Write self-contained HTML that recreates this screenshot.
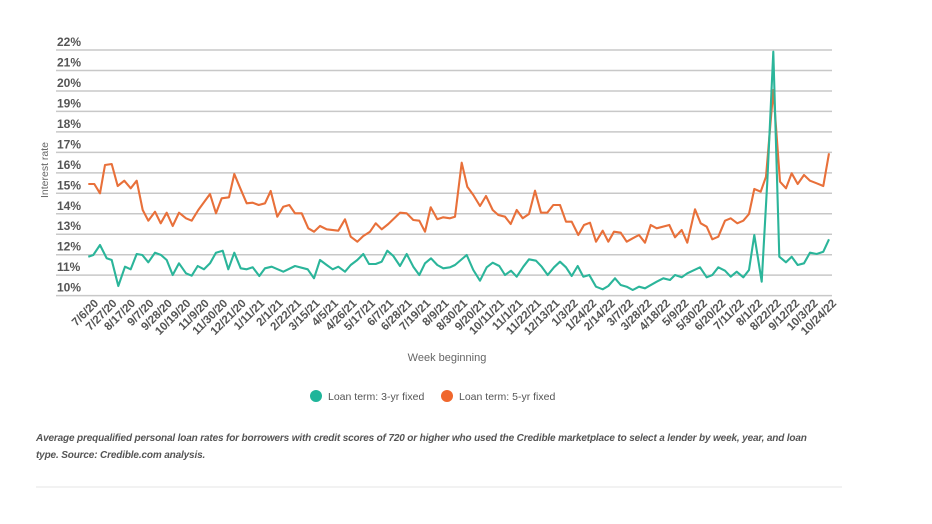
<!DOCTYPE html>
<html><head><meta charset="utf-8"><style>
body{margin:0;background:#fff;width:932px;height:524px;overflow:hidden;font-family:"Liberation Sans",sans-serif;}
.cap{position:absolute;left:36px;top:430px;width:810px;font:italic bold 10px "Liberation Sans Narrow","Liberation Sans",sans-serif;color:#555;line-height:17px;letter-spacing:-0.15px;white-space:nowrap}
</style></head><body>
<svg id="s" width="932" height="524" style="position:absolute;left:0;top:0" xmlns="http://www.w3.org/2000/svg"></svg>
<div class="cap">Average prequalified personal loan rates for borrowers with credit scores of 720 or higher who used the Credible marketplace to select a lender by week, year, and loan<br>type. Source: Credible.com analysis.</div>
<script>
var s=document.getElementById('s'),h='';
for(var i=0;i<=12;i++){var y=50+i*20.47;h+='<line x1="56" x2="832" y1="'+y+'" y2="'+y+'" stroke="#c8c8c8" stroke-width="1.5"/>';
h+='<text x="57" y="'+(y-4)+'" font-size="12" font-weight="bold" fill="#555">'+(22-i)+'%</text>';}
h+='<text transform="translate(48,170) rotate(-90)" text-anchor="middle" font-size="10.5" fill="#666">Interest rate</text>';
var labs="7/6/20 7/27/20 8/17/20 9/7/20 9/28/20 10/19/20 11/9/20 11/30/20 12/21/20 1/11/21 2/1/21 2/22/21 3/15/21 4/5/21 4/26/21 5/17/21 6/7/21 6/28/21 7/19/21 8/9/21 8/30/21 9/20/21 10/11/21 11/1/21 11/22/21 12/13/21 1/3/22 1/24/22 2/14/22 3/7/22 3/28/22 4/18/22 5/9/22 5/30/22 6/20/22 7/11/22 8/1/22 8/22/22 9/12/22 10/3/22 10/24/22".split(' ');
for(var i=0;i<labs.length;i++){var x=99+i*(738/(labs.length-1));h+='<text transform="translate('+x+',304) rotate(-45)" text-anchor="end" font-size="11.5" font-weight="bold" fill="#555">'+labs[i]+'</text>';}
h+='<text x="447" y="361" text-anchor="middle" font-size="11" fill="#666">Week beginning</text>';
function conv(a,b,ox){var r=[];for(var i=0;i<a.length;i+=2)r.push((ox+a[i]/3).toFixed(1)+','+(30+a[i+1]/3).toFixed(1));return r;}
var o1=[175,462,193,462,210,490,225,405,245,402,263,468,283,452,302,475,320,452,338,540,355,572,375,545,392,580,410,548,428,588,447,548,468,565,485,572,505,540,540,492,558,550,575,505,597,502,613,432,632,478,650,520,668,518,686,525,705,520,722,483,742,560,760,530,778,525,795,550,815,550,835,595,852,605,870,588,890,598,925,602,945,568,962,620,982,635,1000,618,1020,605,1037,580,1055,598,1075,582,1110,548,1130,550,1150,570,1168,572,1185,605,1202,532,1222,568,1240,562,1260,565];
var o2=[15,560,35,398,52,470,70,495,90,528,108,498,128,540,145,555,165,560,182,582,200,540,218,565,237,552,255,482,273,548,292,548,310,525,330,525,348,575,365,575,385,615,402,585,420,578,438,635,458,602,475,635,492,605,512,608,530,635,548,625,567,615,585,638,602,585,620,595,658,585,675,622,695,600,712,638,735,538,752,580,770,590,787,628,805,620,825,572,842,565,862,580,880,572,897,552,913,477,932,485,948,440,970,180,990,455,1008,475,1025,430,1043,462,1062,435,1080,452,1100,460,1120,468,1137,370];
var t1=[175,680,190,675,210,645,230,685,245,690,265,768,285,710,302,718,320,672,337,675,355,697,375,668,393,675,410,690,428,735,447,700,468,730,485,737,503,708,522,718,540,700,558,668,578,662,595,718,613,668,632,715,650,718,668,712,688,738,705,715,725,710,760,725,795,708,833,718,852,745,870,690,890,705,908,718,925,710,945,725,962,705,982,690,1000,672,1017,702,1037,702,1055,695,1072,662,1090,678,1110,708,1130,672,1150,710,1168,735,1185,700,1203,685,1222,705,1240,715,1260,712];
var t2=[15,705,50,675,70,720,90,752,110,712,128,698,148,708,165,735,183,722,200,740,220,710,237,688,258,692,275,710,293,735,312,712,330,695,348,712,365,738,383,708,400,740,418,735,438,770,458,778,475,768,495,745,512,765,530,770,548,780,567,770,585,775,620,755,640,745,660,750,675,735,695,742,712,730,750,712,770,742,787,735,805,712,825,722,842,740,860,725,880,742,897,720,913,615,935,755,952,455,970,65,988,680,1008,697,1025,680,1043,705,1062,700,1080,668,1100,672,1120,665,1137,628];
h+='<polyline fill="none" stroke="#E8703A" stroke-width="2.1" stroke-linejoin="round" points="'+conv(o1,0,30).concat(conv(o2,0,450)).join(' ')+'"/>';
h+='<polyline fill="none" stroke="#2BB59A" stroke-width="2.1" stroke-linejoin="round" points="'+conv(t1,0,30).concat(conv(t2,0,450)).join(' ')+'"/>';
h+='<circle cx="316" cy="396" r="6" fill="#1FB59A"/><text x="328" y="400" font-size="10.5" fill="#555">Loan term: 3-yr fixed</text>';
h+='<circle cx="447" cy="396" r="6" fill="#F0672D"/><text x="459" y="400" font-size="10.5" fill="#555">Loan term: 5-yr fixed</text>';
h+='<line x1="36" x2="842" y1="487" y2="487" stroke="#e6e6e6" stroke-width="1"/>';
s.innerHTML=h;
</script>
</body></html>
